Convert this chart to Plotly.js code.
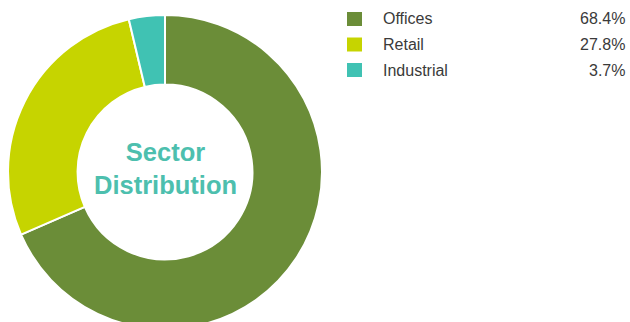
<!DOCTYPE html>
<html>
<head>
<meta charset="utf-8">
<script src="https://cdn.plot.ly/plotly-3.0.1.min.js"></script>
<style>
  html, body { margin: 0; padding: 0; background: #fff; overflow: hidden; }
  #chart { width: 630px; height: 344px; }
</style>
</head>
<body>
<div id="chart"></div>
<script>
// Sector split of the portfolio (percent of total)
const sectors = ["Offices", "Retail", "Industrial"];
const shares = [68.4, 27.8, 3.7];
const sectorColors = ["#6b8d38", "#c6d400", "#40c2b3"];
const centerLabel = "Sector<br>Distribution";

const W = 630, H = 344;
const px = x => x / W;
const py = y => 1 - y / H;

const donut = {
  type: "pie",
  labels: sectors,
  values: shares,
  sort: false,
  direction: "clockwise",
  rotation: 0,
  hole: 0.557,
  textinfo: "none",
  hoverinfo: "label+percent",
  showlegend: false,
  marker: { colors: sectorColors, line: { color: "#ffffff", width: 2 } },
  domain: { x: [px(8), px(322)], y: [0, 1] }
};

// Legend rows: swatch, name and share, one row per sector
const rowY = [19, 44.5, 70];
const legendFont = { family: "Liberation Sans, Arial, sans-serif", size: 16, color: "#3a3a3a" };
const shapes = [];
const annotations = [];
sectors.forEach((name, i) => {
  shapes.push({
    type: "rect", xref: "paper", yref: "paper",
    x0: px(347), x1: px(362), y0: py(rowY[i] - 7), y1: py(rowY[i] + 7),
    fillcolor: sectorColors[i], line: { width: 0 }
  });
  annotations.push({
    xref: "paper", yref: "paper", x: px(381), y: py(rowY[i]),
    xanchor: "left", yanchor: "middle", showarrow: false,
    text: name, font: legendFont
  });
  annotations.push({
    xref: "paper", yref: "paper", x: px(627), y: py(rowY[i]),
    xanchor: "right", yanchor: "middle", showarrow: false,
    text: shares[i].toFixed(1) + "%", font: legendFont
  });
});

annotations.push({
  xref: "paper", yref: "paper", x: px(165), y: py(168),
  xanchor: "center", yanchor: "middle", showarrow: false,
  text: "<b>" + centerLabel + "</b>",
  font: { family: "Liberation Sans, Arial, sans-serif", size: 25.5, color: "#4dbfae" }
});

const layout = {
  width: W, height: H,
  margin: { l: 0, r: 0, t: 0, b: 0 },
  paper_bgcolor: "#ffffff",
  shapes: shapes,
  annotations: annotations
};

Plotly.newPlot("chart", [donut], layout, { displayModeBar: false, staticPlot: true });
</script>
</body>
</html>
